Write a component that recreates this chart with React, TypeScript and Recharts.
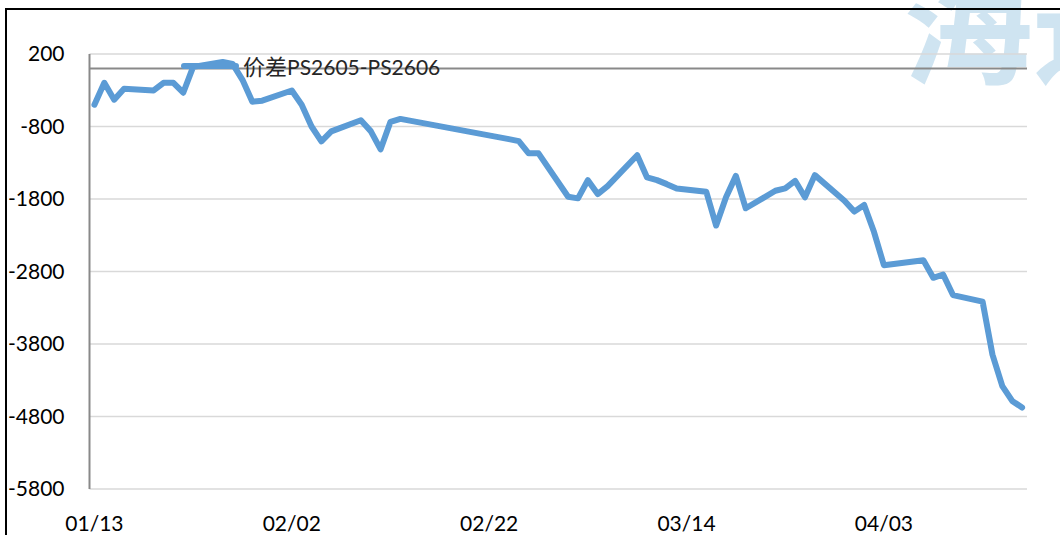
import React from 'react';
import { LineChart, Line, XAxis, YAxis, CartesianGrid, ReferenceLine } from 'recharts';

// trading dates (2026) and spread values
const dates = [
  '01/13', '01/14', '01/15', '01/16', '01/19', '01/20', '01/21', '01/22', '01/23',
  '01/26', '01/27', '01/28', '01/29', '01/30',
  '02/02', '02/03', '02/04', '02/05', '02/06', '02/09', '02/10', '02/11', '02/12', '02/13',
  '02/24', '02/25', '02/26', '02/27',
  '03/02', '03/03', '03/04', '03/05', '03/06', '03/09', '03/10', '03/11', '03/12', '03/13',
  '03/16', '03/17', '03/18', '03/19', '03/20', '03/23', '03/24', '03/25', '03/26', '03/27',
  '03/30', '03/31', '04/01', '04/02', '04/03',
  '04/07', '04/08', '04/09', '04/10', '04/13', '04/14', '04/15', '04/16', '04/17',
];

const spread = [
  -499, -197, -430, -280, -303, -197, -197, -334, 22,
  90, 63, -156, -458, -444,
  -303, -499, -800, -1005, -868, -714, -864, -1115, -735, -695,
  -974, -1001, -1170, -1170,
  -1769, -1791, -1540, -1732, -1622, -1197, -1503, -1540, -1595, -1654,
  -1700, -2166, -1777, -1481, -1928, -1686, -1654, -1549, -1777, -1471,
  -1823, -1974, -1882, -2256, -2714,
  -2645, -2887, -2841, -3125, -3215, -3947, -4380, -4585, -4677,
];

const xTickLabels = ['01/13', '02/02', '02/22', '03/14', '04/03'];
const yTicks = [-5800, -4800, -3800, -2800, -1800, -800, 200];

const seriesName = '价差PS2605-PS2606';

const dayOf = (md: string) => {
  const [m, d] = md.split('/').map(Number);
  return (Date.UTC(2026, m - 1, d) - Date.UTC(2026, 0, 13)) / 86400000;
};

const data = dates.map((md, i) => ({ d: dayOf(md), label: md, value: spread[i] }));
const xTicks = xTickLabels.map(dayOf);
const tickName = (v: number) => xTickLabels[xTicks.indexOf(v)] ?? '';

const LATIN = 'Lato, "Noto Sans", sans-serif';
const LINE_COLOR = '#5b9bd5';

const ChartLegend = () => (
  <div style={{ position: 'absolute', left: 179, top: 53, display: 'flex', alignItems: 'center', whiteSpace: 'nowrap' }}>
    <svg width={60} height={10} style={{ display: 'block' }}>
      <line x1={5} y1={5} x2={57} y2={5} stroke={LINE_COLOR} strokeWidth={6} strokeLinecap="round" />
    </svg>
    <span style={{ marginLeft: 4, fontSize: 21, color: '#262626', fontFamily: LATIN, lineHeight: '24px' }}>
      <span style={{ fontFamily: '"Noto Sans CJK SC", sans-serif', fontSize: 22 }}>价差</span>
      {seriesName.replace('价差', '')}
    </span>
  </div>
);

export default function App() {
  return (
    <div style={{ position: 'absolute', left: 0, top: 0, width: 1060, height: 535, overflow: 'hidden', background: '#fff' }}>
      {/* watermark */}
      <svg width={1060} height={535} style={{ position: 'absolute', left: 0, top: 0 }}>
        <text x={903} y={74} fontSize={130} fontWeight={700} fill="#cfe4f1"
          fontFamily='"Noto Sans CJK SC", sans-serif'>海通</text>
      </svg>
      <div style={{ position: 'absolute', left: 0, top: 0 }}>
        <LineChart width={1060} height={535} data={data}
          margin={{ top: 54, right: 33, bottom: 16, left: 9.5 }}>
          <CartesianGrid vertical={false} stroke="#d9d9d9" strokeWidth={1.5} />
          <XAxis dataKey="d" type="number" domain={[-0.5, 94.5]} ticks={xTicks}
            tickFormatter={tickName} axisLine={false} tickLine={false} tickSize={0}
            tickMargin={27} height={30} interval={0}
            tick={{ fill: '#000', fontSize: 21, fontFamily: LATIN }} />
          <YAxis type="number" domain={[-5800, 200]} ticks={yTicks} width={80}
            axisLine={{ stroke: '#898989', strokeWidth: 2 }} tickLine={false} tickSize={0}
            tickMargin={25} interval={0}
            tick={{ fill: '#000', fontSize: 21, fontFamily: LATIN }} />
          <ReferenceLine y={0} stroke="#898989" strokeWidth={2} />
          <Line type="linear" dataKey="value" name={seriesName} stroke={LINE_COLOR} strokeWidth={6}
            strokeLinejoin="round" strokeLinecap="round" dot={false} activeDot={false}
            isAnimationActive={false} />
        </LineChart>
      </div>
      <ChartLegend />
      {/* outer frame */}
      <div style={{ position: 'absolute', left: 5, top: 8, width: 1200, height: 700, border: '2.5px solid #000', pointerEvents: 'none' }} />
    </div>
  );
}
